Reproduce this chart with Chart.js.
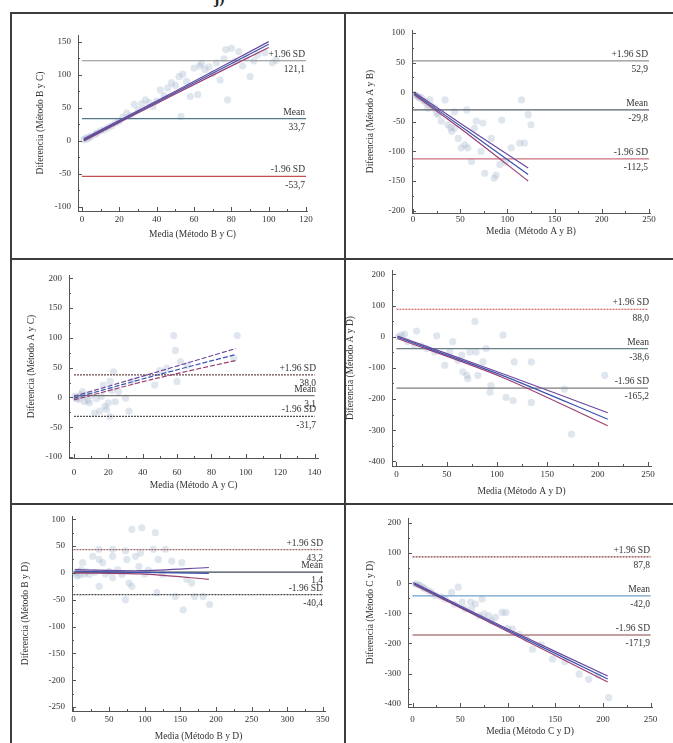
<!DOCTYPE html>
<html><head><meta charset="utf-8">
<script src="https://cdn.jsdelivr.net/npm/chart.js@4.4.0/dist/chart.umd.min.js"></script>
<style>
body{margin:0;background:#fff;width:673px;height:743px;overflow:hidden;position:relative;font-family:"Liberation Serif",serif}
.fr{position:absolute;background:#3c3c3c}
canvas{position:absolute;left:0;top:0}
.cap{position:absolute;left:214px;top:-11px;font:bold 16px "Liberation Serif",serif;color:#222}
</style></head><body>
<div class="cap">j)</div>
<div class="fr" style="left:11px;top:12px;width:662px;height:2px"></div>
<div class="fr" style="left:10px;top:12px;width:2px;height:731px"></div>
<div class="fr" style="left:344px;top:12px;width:2px;height:731px"></div>
<div class="fr" style="left:11px;top:258px;width:662px;height:2px"></div>
<div class="fr" style="left:11px;top:503px;width:662px;height:2px"></div>
<script>
// ---------- DATA ----------
// Panel 1: Método B y C
const bcX=[1,2,3,4,5,7,8,10,12,14,16,18,20,22,24,26,28,30,32,34,36,38,40,42,44,46,48,50,52,53,54,56,58,60,62,63,64,66,68,70,72,74,76,77,78,80,82,84,86,88,90,92,94,98,102,104];
const bcY=[2,4,3,6,7,10,12,15,17,20,23,27,30,36,42,38,55,47,56,62,58,52,60,77,68,80,88,84,97,37,101,90,67,110,70,113,117,108,112,102,118,92,124,138,62,140,120,135,113,126,97,121,130,133,118,122];
const bcLimits=[121.1,33.7,-53.7];
const bcRegX=[1,50,100], bcRegUp=[3,75,150], bcRegMid=[1.5,73,146], bcRegLo=[0,71,141];
const bcXTicks=[0,20,40,60,80,100,120], bcYTicks=[-100,-50,0,50,100,150];

// Panel 2: Método A y B
const abX=[2,4,6,7,9,11,13,15,16,18,20,23,25,27,30,34,37,40,41,44,44,48,51,55,57,58,62,65,67,72,74,76,83,86,88,92,94,98,104,113,115,118,122,125];
const abY=[-4,-6,-8,-10,-9,-14,-16,-20,-27,-13,-24,-27,-35,-38,-49,-13,-55,-60,-66,-61,-33,-78,-94,-89,-30,-94,-117,-61,-49,-100,-52,-137,-78,-145,-140,-122,-47,-118,-94,-86,-13,-86,-38,-55];
const abLimits=[52.9,-29.8,-112.5];
const abRegX=[1,60,122], abRegUp=[0,-63,-128], abRegMid=[-2,-68,-139], abRegLo=[-4,-73,-150];
const abXTicks=[0,50,100,150,200,250], abYTicks=[-200,-150,-100,-50,0,50,100];

// Panel 3: Método A y C
const acX=[0.5,1.5,2,3,4,5,6,7,8,9,10,12,13,15,16,17,18,19,20,21,21,22,23,24,26,30,32,34,47,50,54,58,59,60,62,66,93,95];
const acY=[2,-2,1,-3,5,10,-7,3,-5,-9,4,-26,-2,-23,2,21,-15,-20,-9,27,-32,12,43,-7,10,-1,-23,27,21,45,49,104,79,27,60,54,66,104];
const acLimits=[38.0,3.1,-31.7];
const acRegX=[0,45,94], acRegUp=[2,40,82], acRegMid=[-1,35,72], acRegLo=[-4,30,62];
const acXTicks=[0,20,40,60,80,100,120,140], acYTicks=[-100,-50,0,50,100,150,200];

// Panel 4: Método A y D
const adX=[2,5,8,11,18,20,25,30,38,40,48,53,56,61,65,66,70,71,73,78,79,81,86,89,93,94,106,109,116,117,134,134,167,174,207];
const adY=[0,5,8,-16,-27,18,-30,-38,-49,3,-92,-49,-16,-76,-59,-113,-124,-135,-49,49,-49,-124,-81,-38,-178,-157,5,-195,-205,-81,-81,-211,-168,-313,-124];
const adLimits=[88.0,-38.6,-165.2];
const adRegX=[1,105,210], adRegUp=[2,-118,-244], adRegMid=[-2,-124,-265], adRegLo=[-6,-130,-286];
const adXTicks=[0,50,100,150,200,250], adYTicks=[-400,-300,-200,-100,0,100,200];

// Panel 5: Método B y D
const bdX=[3,5,7,9,11,13,15,18,22,27,30,36,36,36,41,45,50,55,55,55,62,68,73,73,75,78,82,82,87,92,94,96,100,105,112,115,117,119,125,129,138,143,152,154,159,166,170,182,191];
const bdY=[0,-6,3,-4,5,19,-2,2,-3,31,1,44,25,-25,19,-2,3,44,31,-9,6,-3,41,-50,25,-19,-25,81,31,12,37,84,-2,5,44,75,-37,25,-3,44,22,-44,19,-69,-12,-19,-44,-44,-59];
const bdLimits=[43.2,1.4,-40.4];
const bdRegX=[2,95,190], bdRegUp=[6,4,10], bdRegMid=[3,1,-1], bdRegLo=[0,-2,-12];
const bdXTicks=[0,50,100,150,200,250,300,350], bdYTicks=[-250,-200,-150,-100,-50,0,50,100];

// Panel 6: Método C y D
const cdX=[3,6,8,11,13,17,20,24,30,34,41,44,48,52,55,61,62,66,70,73,75,80,83,87,94,98,100,105,112,120,126,135,147,160,175,185,195,206];
const cdY=[-2,-5,-8,-14,-19,-25,-30,-41,-45,-52,-30,-70,-13,-63,-85,-63,-86,-69,-108,-52,-102,-108,-124,-113,-97,-97,-150,-152,-170,-185,-219,-205,-252,-260,-302,-319,-305,-380];
const cdLimits=[87.8,-42.0,-171.9];
const cdRegX=[1,100,205], cdRegUp=[2,-152,-308], cdRegMid=[-1,-156,-318], cdRegLo=[-4,-160,-328];
const cdXTicks=[0,50,100,150,200,250], cdYTicks=[-400,-300,-200,-100,0,100,200];

const limitNames=['+1.96 SD','Mean','-1.96 SD'];

// ---------- LAYOUT / STYLE ----------
const FAM='"Liberation Serif", "Times New Roman", serif';
const panels=[
 {xs:bcX,ys:bcY,lim:bcLimits,rx:bcRegX,ru:bcRegUp,rm:bcRegMid,rl:bcRegLo,xt:bcXTicks,yt:bcYTicks,
  xMin:-2.1,xMax:120.5,yMin:-106,yMax:160,area:{l:78,t:35,r:307,b:211},yTitleX:40.7,xTitleY:234,xLabelY:220,
  xTitle:'Media (Método B y C)',yTitle:'Diferencia (Método B y C)',
  ls:[{c:'#8c8c8c',d:[]},{c:'#4f7a8c',d:[]},{c:'#c45050',d:[]}],dash:[]},
 {xs:abX,ys:abY,lim:abLimits,rx:abRegX,ru:abRegUp,rm:abRegMid,rl:abRegLo,xt:abXTicks,yt:abYTicks,
  xMin:-1,xMax:251,yMin:-204,yMax:105,area:{l:412,t:30,r:650,b:213},yTitleX:370,xTitleY:231,xLabelY:220,
  xTitle:'Media  (Método A y B)',yTitle:'Diferencia (Método A y B)',
  ls:[{c:'#929292',d:[]},{c:'#56626e',d:[]},{c:'#cc7080',d:[]}],dash:[]},
 {xs:acX,ys:acY,lim:acLimits,rx:acRegX,ru:acRegUp,rm:acRegMid,rl:acRegLo,xt:acXTicks,yt:acYTicks,
  xMin:-2.9,xMax:142,yMin:-101.5,yMax:205.5,area:{l:69,t:275,r:318,b:458},yTitleX:31.7,xTitleY:485,xLabelY:472.7,
  xTitle:'Media (Método A y C)',yTitle:'Diferencia (Método A y C)',
  ls:[{c:'#6a4848',d:[2,1]},{c:'#747474',d:[]},{c:'#505050',d:[2,1]}],dash:[5,2]},
 {xs:adX,ys:adY,lim:adLimits,rx:adRegX,ru:adRegUp,rm:adRegMid,rl:adRegLo,xt:adXTicks,yt:adYTicks,
  xMin:-4.4,xMax:253,yMin:-415,yMax:214,area:{l:392,t:270,r:651,b:466},yTitleX:350,xTitleY:491,xLabelY:475,
  xTitle:'Media (Método A y D)',yTitle:'Diferencia (Método A y D)',
  ls:[{c:'#c44a4a',d:[2,1]},{c:'#6a8088',d:[]},{c:'#7c7c7c',d:[]}],dash:[]},
 {xs:bdX,ys:bdY,lim:bdLimits,rx:bdRegX,ru:bdRegUp,rm:bdRegMid,rl:bdRegLo,xt:bdXTicks,yt:bdYTicks,
  xMin:-2,xMax:353,yMin:-257.5,yMax:106,area:{l:72,t:516,r:325,b:711},yTitleX:25,xTitleY:736,xLabelY:720,
  xTitle:'Media (Método B y D)',yTitle:'Diferencia (Método B y D)',
  ls:[{c:'#a06868',d:[2,1]},{c:'#404850',d:[]},{c:'#444444',d:[2,1]}],dash:[]},
 {xs:cdX,ys:cdY,lim:cdLimits,rx:cdRegX,ru:cdRegUp,rm:cdRegMid,rl:cdRegLo,xt:cdXTicks,yt:cdYTicks,
  xMin:-4.8,xMax:251.5,yMin:-411,yMax:216.7,area:{l:408,t:518,r:652,b:707},yTitleX:370,xTitleY:731.7,xLabelY:720,
  xTitle:'Media (Método C y D)',yTitle:'Diferencia (Método C y D)',
  ls:[{c:'#8c3c3c',d:[2,1]},{c:'#6ca2c8',d:[]},{c:'#8c4242',d:[]}],dash:[]}
];

function pts(xs,ys){return xs.map((x,i)=>({x:x,y:ys[i]}));}
function fmt(v){return v.toFixed(1).replace('.',',');}

function decor(p){
 return {id:'decor',afterDraw(chart){
  const ctx=chart.ctx, xs=chart.scales.x, ys=chart.scales.y, ca=chart.chartArea;
  ctx.save();
  ctx.strokeStyle='#555';ctx.lineWidth=1;
  ctx.beginPath();
  p.xt.forEach((v,i)=>{
    const px=Math.round(xs.getPixelForValue(v))+0.5;
    ctx.moveTo(px,ca.bottom);ctx.lineTo(px,ca.bottom-4);
    if(i<p.xt.length-1){const m=Math.round(xs.getPixelForValue((v+p.xt[i+1])/2))+0.5;ctx.moveTo(m,ca.bottom);ctx.lineTo(m,ca.bottom-2);}
  });
  p.yt.forEach((v,i)=>{
    const py=Math.round(ys.getPixelForValue(v))+0.5;
    ctx.moveTo(ca.left,py);ctx.lineTo(ca.left+4,py);
    if(i<p.yt.length-1){const m=Math.round(ys.getPixelForValue((v+p.yt[i+1])/2))+0.5;ctx.moveTo(ca.left,m);ctx.lineTo(ca.left+2,m);}
  });
  ctx.stroke();
  ctx.fillStyle='#333';ctx.font='9.5px '+FAM;ctx.textAlign='right';
  p.lim.forEach((v,i)=>{
    const py=ys.getPixelForValue(v);
    ctx.textBaseline='alphabetic';ctx.fillText(limitNames[i],ca.right-2,py-4);
    ctx.textBaseline='top';ctx.fillText(fmt(v),ca.right-2,py+4);
  });
  ctx.restore();
 }};
}

panels.forEach(p=>{
  const cv=document.createElement('canvas');cv.width=673;cv.height=743;document.body.appendChild(cv);
  const ca=p.area;
  const half=9.5*1.2/2;
  const boxLeft=p.yTitleX-half, boxBottom=p.xTitleY+half;
  const yW=ca.l-boxLeft, xH=boxBottom-ca.b;
  const xEnd=p.xt[p.xt.length-1];
  const ds=[];
  // regression line with confidence band
  [[p.ru,'#6a4a9c'],[p.rm,'#3a52b0'],[p.rl,'#9a3f70']].forEach(([arr,c])=>{
    ds.push({data:pts(p.rx,arr),showLine:true,borderColor:c,borderWidth:1.2,borderDash:p.dash,pointRadius:0,tension:0.3});
  });
  // limits of agreement
  p.lim.forEach((v,i)=>{
    ds.push({data:[{x:0,y:v},{x:xEnd,y:v}],showLine:true,borderColor:p.ls[i].c,borderDash:p.ls[i].d,borderWidth:1.2,pointRadius:0});
  });
  ds.push({data:pts(p.xs,p.ys),pointRadius:3.6,pointBackgroundColor:'rgba(160,176,198,0.32)',pointBorderWidth:0,showLine:false});
  const font={family:FAM,size:9};
  new Chart(cv,{type:'scatter',data:{datasets:ds},options:{
    responsive:false,animation:false,events:[],
    layout:{padding:{left:boxLeft,top:ca.t,right:673-ca.r,bottom:743-boxBottom}},
    plugins:{legend:{display:false},tooltip:{enabled:false}},
    scales:{
      x:{type:'linear',position:'bottom',min:p.xMin,max:p.xMax,
        afterFit:s=>{s.height=xH;},
        afterBuildTicks:s=>{s.ticks=p.xt.map(v=>({value:v}));},
        ticks:{autoSkip:false,maxRotation:0,padding:p.xLabelY-ca.b-5.4,font:font,color:'#333',callback:v=>String(v)},
        grid:{display:true,drawOnChartArea:false,drawTicks:false},
        border:{display:true,color:'#555',width:1},
        title:{display:true,text:p.xTitle,font:{family:FAM,size:9.5},color:'#333',padding:0}},
      y:{type:'linear',position:'left',min:p.yMin,max:p.yMax,
        afterFit:s=>{s.width=yW;},
        afterBuildTicks:s=>{s.ticks=p.yt.map(v=>({value:v}));},
        ticks:{autoSkip:false,padding:7,font:font,color:'#333',callback:v=>String(v)},
        grid:{display:true,drawOnChartArea:false,drawTicks:false},
        border:{display:true,color:'#555',width:1},
        title:{display:true,text:p.yTitle,font:{family:FAM,size:9.5},color:'#333',padding:0}}
    }
  },plugins:[decor(p)]});
});
</script>
</body></html>
